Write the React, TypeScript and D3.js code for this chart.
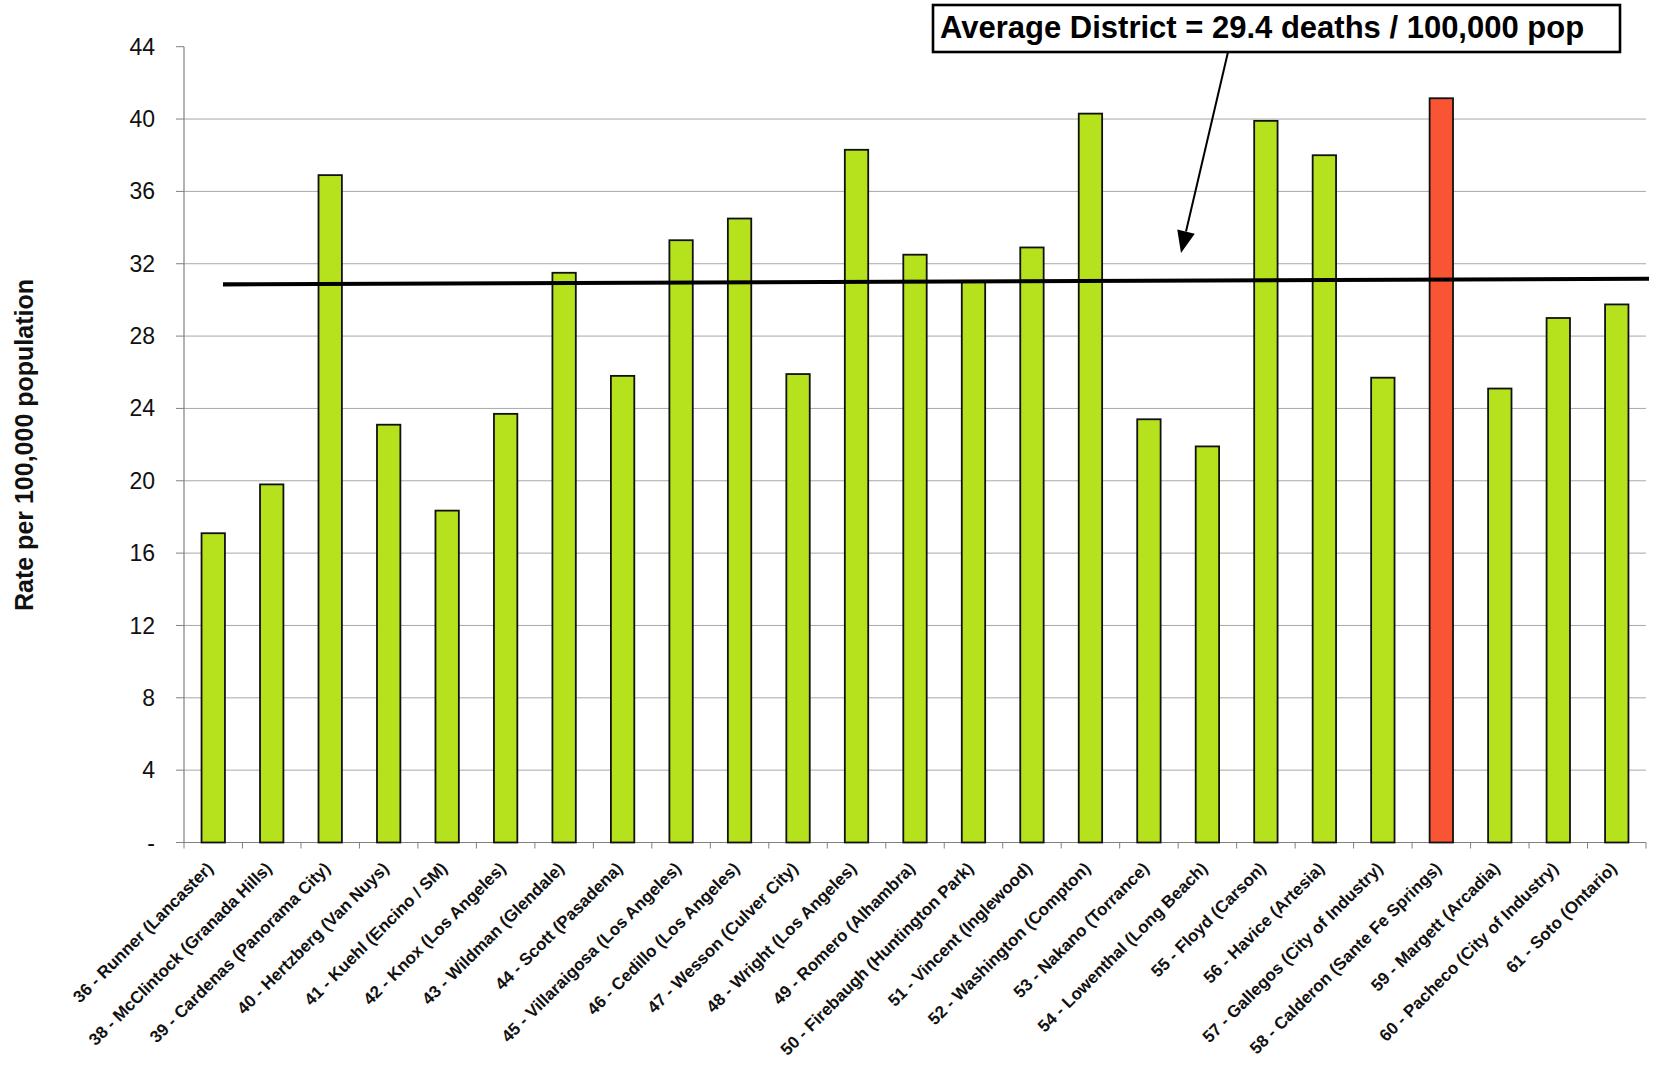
import React from "react";
import * as d3 from "d3";

const categories: string[] = [
  "36 - Runner (Lancaster)",
  "38 - McClintock (Granada Hills)",
  "39 - Cardenas (Panorama City)",
  "40 - Hertzberg (Van Nuys)",
  "41 - Kuehl (Encino / SM)",
  "42 - Knox (Los Angeles)",
  "43 - Wildman (Glendale)",
  "44 - Scott (Pasadena)",
  "45 - Villaraigosa (Los Angeles)",
  "46 - Cedillo (Los Angeles)",
  "47 - Wesson (Culver City)",
  "48 - Wright (Los Angeles)",
  "49 - Romero (Alhambra)",
  "50 - Firebaugh (Huntington Park)",
  "51 - Vincent (Inglewood)",
  "52 - Washington (Compton)",
  "53 - Nakano (Torrance)",
  "54 - Lowenthal (Long Beach)",
  "55 - Floyd (Carson)",
  "56 - Havice (Artesia)",
  "57 - Gallegos (City of Industry)",
  "58 - Calderon (Sante Fe Springs)",
  "59 - Margett (Arcadia)",
  "60 - Pacheco (City of Industry)",
  "61 - Soto (Ontario)",
];

const rates: number[] = [
  17.1, 19.8, 36.9, 23.1, 18.35, 23.7, 31.5, 25.8, 33.3, 34.5, 25.9, 38.3,
  32.5, 31.0, 32.9, 40.3, 23.4, 21.9, 39.9, 38.0, 25.7, 41.15, 25.1, 29.0,
  29.75,
];

const highlighted: string[] = ["58 - Calderon (Sante Fe Springs)"];

const yTicks: number[] = [0, 4, 8, 12, 16, 20, 24, 28, 32, 36, 40, 44];

// drawn average line (left end value, right end value)
const averageLine: number[] = [30.86, 31.17];
const annotationText = "Average District = 29.4 deaths / 100,000 pop";
const yTitle = "Rate per 100,000 population";

const W = 1656;
const H = 1068;
const LEFT = 184;
const RIGHT = 1646;
const BOTTOM = 842.5;
const TOP = 46.7;

const GREEN = "#b5e21c";
const RED = "#f95535";
const FONT = "'Liberation Sans', Arial, Helvetica, sans-serif";

export default function App() {
  const x = d3
    .scaleBand<string>()
    .domain(categories)
    .range([LEFT, RIGHT])
    .paddingInner(0.6)
    .paddingOuter(0.3);
  const y = d3.scaleLinear().domain([0, 44]).range([BOTTOM, TOP]);
  const step = x.step();
  const bw = x.bandwidth();

  const lineGen = d3
    .line<[number, number]>()
    .x((d) => d[0])
    .y((d) => y(d[1]));
  const avgPts: [number, number][] = [
    [223, averageLine[0]],
    [RIGHT + 3, averageLine[1]],
  ];

  // arrow
  const ax0 = 1228,
    ay0 = 52,
    ax1 = 1181,
    ay1 = 253;
  const ang = Math.atan2(ay1 - ay0, ax1 - ax0);
  const headLen = 22,
    headW = 9;
  const bx = ax1 - headLen * Math.cos(ang);
  const by = ay1 - headLen * Math.sin(ang);
  const px = -Math.sin(ang) * headW;
  const py = Math.cos(ang) * headW;

  return (
    <svg
      width={W}
      height={H}
      viewBox={`0 0 ${W} ${H}`}
      style={{ position: "fixed", left: 0, top: 0, background: "#fff" }}
      fontFamily={FONT}
    >
      <rect x={0} y={0} width={W} height={H} fill="#fff" />
      {/* gridlines */}
      {yTicks
        .filter((t) => t > 0 && t < 44)
        .map((t) => (
          <line
            key={"g" + t}
            x1={LEFT}
            x2={RIGHT}
            y1={y(t)}
            y2={y(t)}
            stroke="#a8a8a8"
            strokeWidth={1}
          />
        ))}
      {/* y ticks */}
      {yTicks.map((t) => (
        <line
          key={"t" + t}
          x1={LEFT - 8}
          x2={LEFT}
          y1={y(t)}
          y2={y(t)}
          stroke="#808080"
          strokeWidth={1}
        />
      ))}
      {yTicks.map((t) => (
        <text
          key={"l" + t}
          x={155}
          y={y(t)}
          dy="0.35em"
          textAnchor="end"
          fontSize={23}
          fill="#111"
        >
          {t === 0 ? "-" : String(t)}
        </text>
      ))}
      {/* y axis */}
      <line x1={LEFT} x2={LEFT} y1={TOP} y2={BOTTOM} stroke="#808080" strokeWidth={1.2} />
      {/* x axis */}
      <line x1={LEFT} x2={RIGHT} y1={BOTTOM} y2={BOTTOM} stroke="#808080" strokeWidth={1.2} />
      {d3.range(categories.length + 1).map((i) => (
        <line
          key={"xt" + i}
          x1={LEFT + i * step}
          x2={LEFT + i * step}
          y1={BOTTOM}
          y2={BOTTOM + 6}
          stroke="#808080"
          strokeWidth={1}
        />
      ))}
      {/* bars */}
      {categories.map((c, i) => (
        <rect
          key={"b" + c}
          x={x(c)!}
          y={y(rates[i])}
          width={bw}
          height={BOTTOM - y(rates[i])}
          fill={highlighted.includes(c) ? RED : GREEN}
          stroke="#111"
          strokeWidth={1.8}
        />
      ))}
      {/* x labels */}
      {categories.map((c) => {
        const cx = x(c)! + bw / 2 + 1;
        const cy = BOTTOM + 27;
        return (
          <text
            key={"xl" + c}
            transform={`translate(${cx},${cy}) rotate(-45)`}
            textAnchor="end"
            fontSize={17}
            fontWeight="bold"
            fill="#111"
          >
            {c}
          </text>
        );
      })}
      {/* y title */}
      <text
        transform={`translate(33,445) rotate(-90)`}
        textAnchor="middle"
        fontSize={25}
        fontWeight="bold"
        fill="#111"
      >
        {yTitle}
      </text>
      {/* average line */}
      <path d={lineGen(avgPts)!} stroke="#000" strokeWidth={4.2} fill="none" />
      {/* annotation box */}
      <rect x={933} y={5} width={687} height={47} fill="#fff" stroke="#000" strokeWidth={2.6} />
      <text x={940} y={38} fontSize={31} fontWeight="bold" fill="#000">
        {annotationText}
      </text>
      {/* arrow */}
      <line x1={ax0} y1={ay0} x2={bx} y2={by} stroke="#000" strokeWidth={2} />
      <polygon
        points={`${ax1},${ay1} ${bx + px},${by + py} ${bx - px},${by - py}`}
        fill="#000"
      />
    </svg>
  );
}
